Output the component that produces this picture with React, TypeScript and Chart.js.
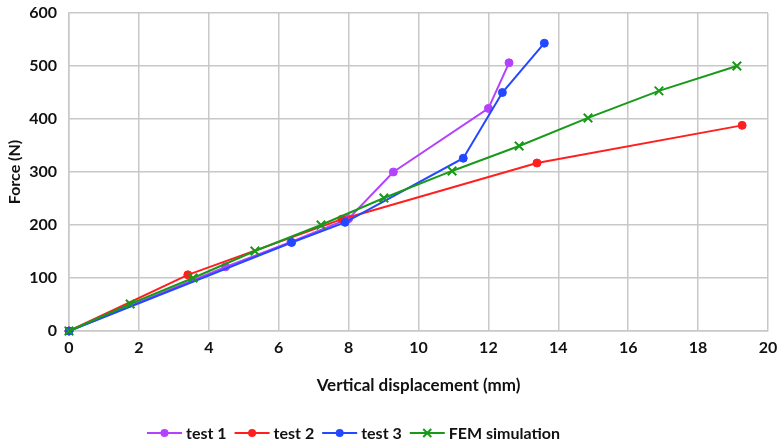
import React, { useEffect, useRef } from "react";
import { Chart, registerables } from "chart.js";

Chart.register(...registerables);

const test1X = [0, 4.48, 6.35, 8.0, 9.28, 12.0, 12.59];
const test1Y = [0, 121, 168, 212, 300, 420, 506];
const test2X = [0, 3.4, 7.81, 13.39, 19.26];
const test2Y = [0, 106, 211, 317, 388];
const test3X = [0, 6.37, 7.9, 11.28, 12.4, 13.6];
const test3Y = [0, 167, 205, 326, 450, 543];
const femX = [0, 1.75, 3.55, 5.32, 7.21, 9.01, 10.96, 12.88, 14.85, 16.88, 19.11];
const femY = [0, 51, 100, 151, 200, 251, 302, 349, 402, 453, 500];

const seriesNames = ["test 1", "test 2", "test 3", "FEM simulation"];
const seriesColors = ["#b342ff", "#ff1f1f", "#2448ff", "#189a18"];
const xTitle = "Vertical displacement (mm)";
const yTitle = "Force (N)";

const FONT = "Lato, 'Open Sans', sans-serif";

const toPts = (xs: number[], ys: number[]) => xs.map((x, i) => ({ x, y: ys[i] }));

export default function App() {
  const ref = useRef<HTMLCanvasElement | null>(null);

  useEffect(() => {
    document.body.style.margin = "0";
    const canvas = ref.current!;
    const legendPlugin = {
      id: "customLegend",
      afterDraw(chart: any) {
        const ctx = chart.ctx;
        const area = chart.chartArea;
        ctx.save();
        // x title
        ctx.font = `bold 17px ${FONT}`;
        ctx.fillStyle = "#111";
        ctx.textAlign = "center";
        ctx.textBaseline = "middle";
        ctx.fillText(xTitle, (area.left + area.right) / 2, 386);
        // legend
        ctx.font = `bold 16px ${FONT}`;
        const lineLen = 35;
        const gapAfterLine = 4;
        const gapItems = 8;
        const widths = seriesNames.map((n) => lineLen + gapAfterLine + ctx.measureText(n).width);
        let x = 147;
        const y = 433;
        seriesNames.forEach((name, i) => {
          const c = seriesColors[i];
          ctx.strokeStyle = c;
          ctx.lineWidth = 2;
          ctx.beginPath();
          ctx.moveTo(x, y);
          ctx.lineTo(x + lineLen, y);
          ctx.stroke();
          const mx = x + lineLen / 2;
          if (i < 3) {
            ctx.fillStyle = c;
            ctx.beginPath();
            ctx.arc(mx, y, 4, 0, Math.PI * 2);
            ctx.fill();
          } else {
            ctx.beginPath();
            ctx.moveTo(mx - 4, y - 4);
            ctx.lineTo(mx + 4, y + 4);
            ctx.moveTo(mx + 4, y - 4);
            ctx.lineTo(mx - 4, y + 4);
            ctx.stroke();
          }
          ctx.fillStyle = "#111";
          ctx.textAlign = "left";
          ctx.fillText(name, x + lineLen + gapAfterLine, y + 1);
          x += widths[i] + gapItems;
        });
        ctx.restore();
      },
    };

    const mk = (label: string, xs: number[], ys: number[], i: number, order: number, style: any) => ({
      label,
      data: toPts(xs, ys),
      borderColor: seriesColors[i],
      backgroundColor: seriesColors[i],
      pointBorderColor: seriesColors[i],
      pointBackgroundColor: seriesColors[i],
      borderWidth: 2,
      pointStyle: style,
      pointRadius: style === "crossRot" ? 6 : 4,
      pointBorderWidth: style === "crossRot" ? 2 : 1,
      showLine: true,
      tension: 0,
      clip: false,
      order,
    });

    const chart = new Chart(canvas, {
      type: "scatter",
      data: {
        datasets: [
          mk(seriesNames[0], test1X, test1Y, 0, 4, "circle"),
          mk(seriesNames[1], test2X, test2Y, 1, 3, "circle"),
          mk(seriesNames[2], test3X, test3Y, 2, 2, "circle"),
          mk(seriesNames[3], femX, femY, 3, 1, "crossRot"),
        ] as any,
      },
      options: {
        animation: false,
        responsive: false,
        layout: { padding: { top: 13, right: 9, left: 0, bottom: 0 } },
        plugins: { legend: { display: false }, tooltip: { enabled: false } },
        scales: {
          x: {
            type: "linear",
            min: 0,
            max: 20,
            ticks: { stepSize: 2, color: "#111", font: { family: FONT, size: 16, weight: "bold" }, padding: 7 },
            grid: { color: "#c8c8c8", lineWidth: 1.5, drawTicks: false },
            border: { color: "#c8c8c8", width: 1.5 },
            afterFit: (s: any) => {
              s.height = 114;
              s.paddingLeft = 0;
              s.paddingRight = 0;
            },
          },
          y: {
            type: "linear",
            min: 0,
            max: 600,
            ticks: { stepSize: 100, color: "#111", font: { family: FONT, size: 16, weight: "bold" }, padding: 12 },
            grid: { color: "#c8c8c8", lineWidth: 1.5, drawTicks: false },
            border: { color: "#c8c8c8", width: 1.5 },
            title: {
              display: true,
              text: yTitle,
              color: "#111",
              font: { family: FONT, size: 16, weight: "bold" },
              padding: { top: 5, bottom: 0 },
            },
            afterFit: (s: any) => {
              s.width = 69;
              s.paddingTop = 0;
              s.paddingBottom = 0;
            },
          },
        },
      } as any,
      plugins: [legendPlugin],
    });
    return () => chart.destroy();
  }, []);

  return (
    <div style={{ width: 777, height: 445, position: "relative", background: "#fff" }}>
      <canvas ref={ref} width={777} height={445} style={{ display: "block" }} />
    </div>
  );
}
